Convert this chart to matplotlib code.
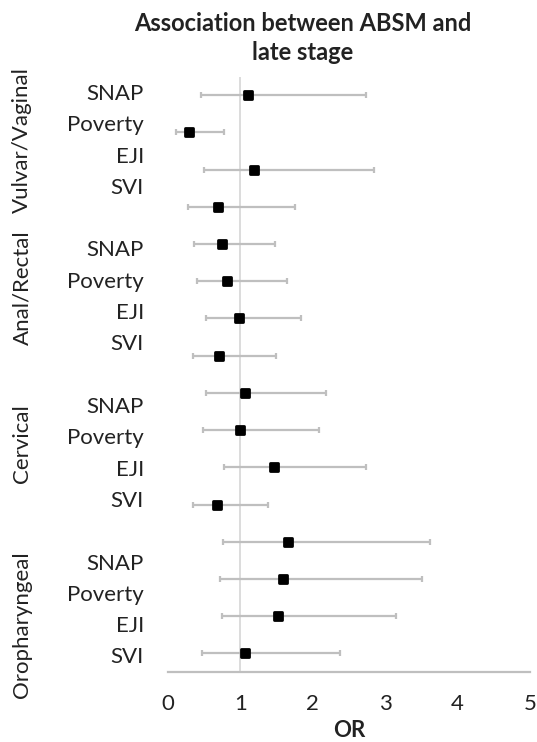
import numpy as np
import matplotlib
matplotlib.use("Agg")
import matplotlib.pyplot as plt
from matplotlib.markers import MarkerStyle

plt.rcParams['font.family'] = ['Lato', 'DejaVu Sans']

# Cancer sites and area-level measures (same measure order inside every site)
sites = ['Vulvar/Vaginal', 'Anal/Rectal', 'Cervical', 'Oropharyngeal']
measures = ['SNAP', 'Poverty', 'EJI', 'SVI']

# Odds ratios with 95% CI, one row per point from top to bottom
odds_ratio = [1.10, 0.29, 1.19, 0.69,
              0.74, 0.81, 0.98, 0.71,
              1.06, 1.00, 1.47, 0.68,
              1.66, 1.59, 1.52, 1.06]
ci_low = [0.45, 0.11, 0.50, 0.27,
          0.36, 0.40, 0.52, 0.34,
          0.52, 0.48, 0.78, 0.34,
          0.76, 0.72, 0.74, 0.47]
ci_high = [2.73, 0.77, 2.84, 1.75,
           1.48, 1.64, 1.84, 1.49,
           2.18, 2.09, 2.74, 1.38,
           3.62, 3.51, 3.15, 2.38]

x_ticks = [0, 1, 2, 3, 4, 5]

W, H = 537, 742
fig = plt.figure(figsize=(W / 100, H / 100), dpi=100)
ax = fig.add_axes([168 / W, 1 - 672 / H, 362 / W, 595.5 / H])

odds = np.array(odds_ratio)
lo = np.array(ci_low)
hi = np.array(ci_high)
ypos = np.arange(1, len(odds) + 1)

# reference line at OR = 1
ax.axvline(1, color='#d9d9d9', lw=1.3, zorder=0)

ax.errorbar(odds, ypos, xerr=[odds - lo, hi - odds], fmt='none',
            ecolor='#bfbfbf', elinewidth=1.6, capsize=2, capthick=1.6, zorder=1)
ax.plot(odds, ypos, linestyle='none',
        marker=MarkerStyle('s', joinstyle='round'),
        ms=5.6, mew=2.0, mfc='black', mec='black', zorder=2)

ax.set_xlim(0, 5)
ax.set_ylim(len(odds) + 0.5, 0.5)
ax.set_xticks(x_ticks)
ax.set_xticklabels([str(t) for t in x_ticks])
ax.set_yticks([])
ax.tick_params(axis='x', length=0, labelsize=16, pad=16, labelcolor='#222222')
for side in ['top', 'right', 'left']:
    ax.spines[side].set_visible(False)
ax.spines['bottom'].set_color('#bfbfbf')
ax.spines['bottom'].set_linewidth(1.6)

ax.set_xlabel('OR', fontsize=16, fontweight='bold', labelpad=4, color='#222222')

# measure labels sit on their own category slots, one blank slot between sites
slot_top = 94
slot_step = 31.3
slot = 0
for s in range(len(sites)):
    for m in measures:
        py = slot_top + slot * slot_step
        fig.text(144 / W, 1 - py / H, m, ha='right', va='center',
                 fontsize=16, color='#222222')
        slot += 1
    slot += 1

# rotated site names on the far left
site_centers = [140, 288, 444, 625]
for name, py in zip(sites, site_centers):
    fig.text(22 / W, 1 - py / H, name, rotation=90, ha='center', va='center',
             fontsize=16, color='#222222')

fig.text(303 / W, 1 - 38 / H, 'Association between ABSM and\nlate stage',
         ha='center', va='center', fontsize=17, fontweight='bold',
         linespacing=1.35, color='#222222')

fig.savefig('out.png', dpi=100)
